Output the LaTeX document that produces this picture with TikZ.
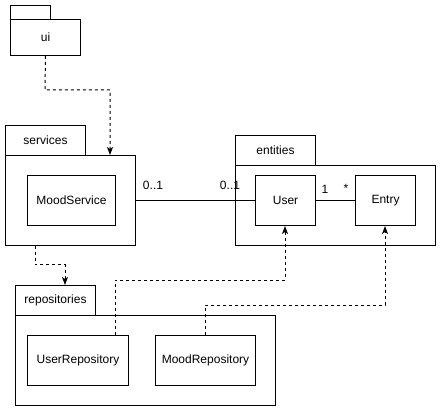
\documentclass[tikz,border=0pt]{standalone}
\usepackage{fontspec}
\setmainfont{Liberation Sans}
\usetikzlibrary{arrows.meta}
\begin{document}
\begin{tikzpicture}[x=1pt,y=-1pt,
  box/.style={draw=black,line width=1pt,fill=white,inner sep=0pt,anchor=north west,font=\fontsize{12pt}{14pt}\selectfont},
  lbl/.style={inner sep=0pt,font=\fontsize{12pt}{14pt}\selectfont},
  dep/.style={draw=black,line width=1pt,dash pattern=on 3pt off 3pt,-{Stealth[length=8pt,width=6pt,inset=2pt]}},
  assoc/.style={draw=black,line width=1pt}]
\useasboundingbox (0,0) rectangle (441,411);
% ui
\node[box,minimum width=40pt,minimum height=14pt] (uitab) at (10,5) {};
\node[box,minimum width=70pt,minimum height=36pt] (uibody) at (10,19) {ui};
% services
\node[box,minimum width=80pt,minimum height=30pt] (servtab) at (5,125) {services};
\node[box,minimum width=130pt,minimum height=90pt] (servbody) at (5,155) {};
\node[box,minimum width=88pt,minimum height=50pt] (moodservice) at (27,175) {MoodService};
% entities
\node[box,minimum width=80pt,minimum height=30pt] (enttab) at (235,135) {entities};
\node[box,minimum width=200pt,minimum height=80pt] (entbody) at (235,165) {};
\node[box,minimum width=60pt,minimum height=50pt] (user) at (255,175) {User};
\node[box,minimum width=60pt,minimum height=50pt] (entry) at (355,175) {Entry};
% repositories
\node[box,minimum width=80pt,minimum height=30pt] (repotab) at (15,285) {repositories};
\node[box,minimum width=260pt,minimum height=90pt] (repobody) at (15,315) {};
\node[box,minimum width=101pt,minimum height=50pt] (userrepo) at (27,335) {UserRepository};
\node[box,minimum width=100pt,minimum height=50pt] (moodrepo) at (155,335) {MoodRepository};
% bend points
\coordinate (c1) at (45,90);
\coordinate (c2) at (110,90);
\coordinate (c3) at (35,265);
\coordinate (c4) at (65,265);
\coordinate (c5) at (115,280);
\coordinate (c6) at (285,280);
\coordinate (c7) at (205,305);
\coordinate (c8) at (385,305);
% dependencies
\draw[dep] (uibody.south) -- (c1) -- (c2) -- (c2 |- servbody.north);
\draw[dep] (servbody.south -| c3) -- (c3) -- (c4) -- (c4 |- repotab.north);
\draw[dep] (userrepo.north -| c5) -- (c5) -- (c6) -- (c6 |- user.south);
\draw[dep] (moodrepo.north -| c7) -- (c7) -- (c8) -- (c8 |- entry.south);
% associations
\draw[assoc] (servbody.east |- moodservice.east) -- (user.west);
\draw[assoc] (user.east) -- (entry.west);
\node[lbl] (m1) at (153,185) {0..1};
\node[lbl] (m2) at (230,185) {0..1};
\node[lbl] (m3) at (325,189) {1};
\node[lbl] (m4) at (346,188) {*};
\end{tikzpicture}
\end{document}
